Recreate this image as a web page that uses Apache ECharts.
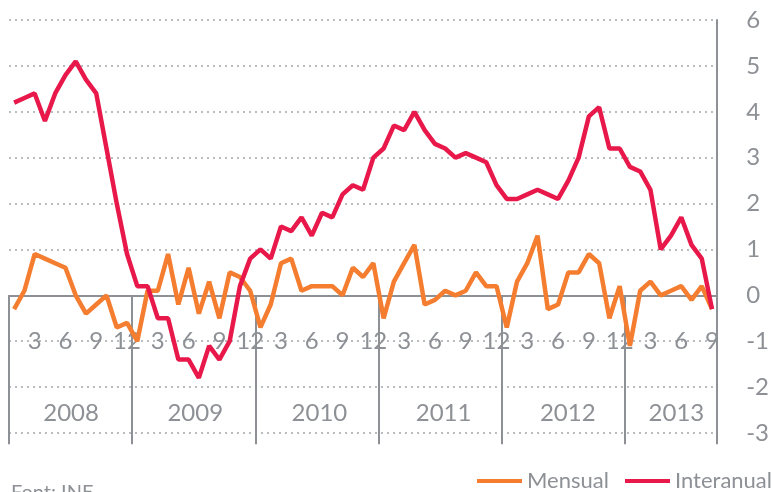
<!DOCTYPE html>
<html>
<head>
<meta charset="utf-8">
<script src="https://cdn.jsdelivr.net/npm/echarts@6/dist/echarts.min.js"></script>
<style>
  html, body { margin: 0; padding: 0; background: #fff; }
  #chart { width: 772px; height: 492px; }
</style>
</head>
<body>
<div id="chart"></div>
<script>
// anys i mesos (gener 2008 - setembre 2013)
const years = ['2008', '2009', '2010', '2011', '2012', '2013']
const monthsPerYear = [12, 12, 12, 12, 12, 9]

// variació mensual (%)
const mensual = [
  -0.3, 0.1, 0.9, 0.8, 0.7, 0.6, 0.0, -0.4, -0.2, 0.0, -0.7, -0.6,
  -1.0, 0.1, 0.1, 0.9, -0.2, 0.6, -0.4, 0.3, -0.5, 0.5, 0.4, 0.1,
  -0.7, -0.2, 0.7, 0.8, 0.1, 0.2, 0.2, 0.2, 0.0, 0.6, 0.4, 0.7,
  -0.5, 0.3, 0.7, 1.1, -0.2, -0.1, 0.1, 0.0, 0.1, 0.5, 0.2, 0.2,
  -0.7, 0.3, 0.7, 1.3, -0.3, -0.2, 0.5, 0.5, 0.9, 0.7, -0.5, 0.2,
  -1.1, 0.1, 0.3, 0.0, 0.1, 0.2, -0.1, 0.2, -0.3
]

// variació interanual (%)
const interanual = [
  4.2, 4.3, 4.4, 3.8, 4.4, 4.8, 5.1, 4.7, 4.4, 3.2, 2.0, 0.9,
  0.2, 0.2, -0.5, -0.5, -1.4, -1.4, -1.8, -1.1, -1.4, -1.0, 0.2, 0.8,
  1.0, 0.8, 1.5, 1.4, 1.7, 1.3, 1.8, 1.7, 2.2, 2.4, 2.3, 3.0,
  3.2, 3.7, 3.6, 4.0, 3.6, 3.3, 3.2, 3.0, 3.1, 3.0, 2.9, 2.4,
  2.1, 2.1, 2.2, 2.3, 2.2, 2.1, 2.5, 3.0, 3.9, 4.1, 3.2, 3.2,
  2.8, 2.7, 2.3, 1.0, 1.3, 1.7, 1.1, 0.8, -0.3
]

const grey = '#8d9095'
const red = '#e8194a'
const orange = '#f47d30'

// categories "any-mes"
const categories = []
const yearCenters = {}
years.forEach((y, i) => {
  const start = categories.length
  for (let m = 1; m <= monthsPerYear[i]; m++) categories.push(y + '-' + m)
  yearCenters[start + monthsPerYear[i] / 2] = y
})
const total = categories.length

const chart = echarts.init(document.getElementById('chart'))

const legendText = { fontSize: 22, color: grey, fontFamily: 'Lato' }

const option = {
  animation: false,
  textStyle: { fontFamily: 'Lato' },
  title: {
    text: 'Font: INE',
    left: 6,
    top: 478,
    textStyle: { fontSize: 20, fontWeight: 'normal', color: grey, fontFamily: 'Lato' }
  },
  legend: [
    {
      data: ['Mensual'],
      left: 472,
      top: 465,
      icon: 'rect',
      itemWidth: 45,
      itemHeight: 4,
      textStyle: legendText
    },
    {
      data: ['Interanual'],
      left: 620,
      top: 465,
      icon: 'rect',
      itemWidth: 45,
      itemHeight: 4,
      width: 300,
      textStyle: legendText
    }
  ],
  grid: [
    { left: 9, right: 49, top: 20, bottom: 59, containLabel: false },
    { left: 9, right: 49, top: 20, bottom: 59, containLabel: false }
  ],
  xAxis: [
    {
      type: 'category',
      gridIndex: 0,
      data: categories,
      boundaryGap: true,
      axisLine: { onZero: true, lineStyle: { color: grey, width: 2 } },
      axisTick: {
        show: true,
        length: 149,
        interval: (idx) => idx % 12 === 0,
        lineStyle: { color: grey, width: 2 }
      },
      axisLabel: {
        inside: true,
        interval: (idx) => idx % 3 === 2,
        formatter: (v) => v.split('-')[1],
        margin: 80,
        fontSize: 24,
        color: grey,
        fontFamily: 'Lato'
      },
      splitLine: { show: false }
    },
    {
      // etiquetes dels anys
      type: 'value',
      gridIndex: 1,
      min: 0,
      max: total,
      interval: 0.5,
      position: 'bottom',
      axisLine: { show: false, onZero: false },
      axisTick: { show: false },
      splitLine: { show: false },
      axisLabel: {
        inside: true,
        margin: 8,
        fontSize: 24,
        color: grey,
        fontFamily: 'Lato',
        formatter: (v) => yearCenters[v] || ''
      }
    }
  ],
  yAxis: [
    {
      type: 'value',
      gridIndex: 0,
      position: 'right',
      min: -3,
      max: 6,
      interval: 1,
      axisLine: { show: true, onZero: false, lineStyle: { color: grey, width: 2 } },
      axisTick: { show: false },
      axisLabel: { margin: 29, fontSize: 24, color: grey, fontFamily: 'Lato' },
      splitLine: { show: true, lineStyle: { color: '#a3a8ad', width: 1.5, type: [2, 4] } }
    },
    {
      type: 'value',
      gridIndex: 1,
      show: false,
      min: -3,
      max: 6
    }
  ],
  series: [
    {
      name: 'Mensual',
      type: 'line',
      data: mensual,
      symbol: 'none',
      color: orange,
      lineStyle: { width: 4.5, color: orange }
    },
    {
      name: 'Interanual',
      type: 'line',
      data: interanual,
      symbol: 'none',
      color: red,
      lineStyle: { width: 4.5, color: red }
    }
  ]
}

chart.setOption(option)
</script>
</body>
</html>
